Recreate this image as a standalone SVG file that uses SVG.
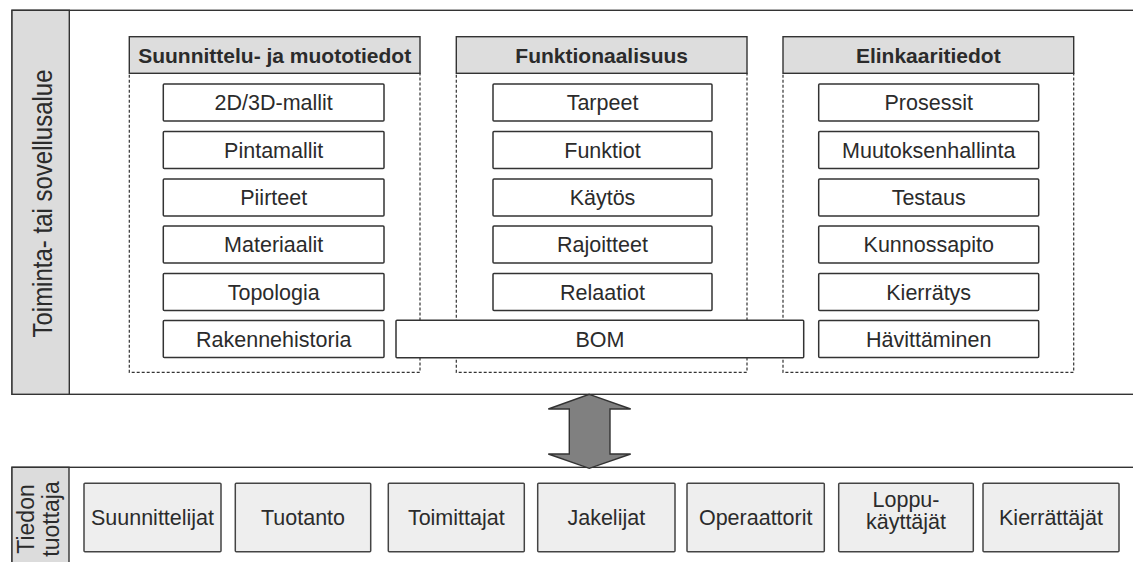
<svg xmlns="http://www.w3.org/2000/svg" width="1133" height="562" viewBox="0 0 1133 562">
<style>
text{font-family:"Liberation Sans",Arial,sans-serif;fill:#2b2b2b}
.panel{fill:#fff;stroke:#333;stroke-width:1.4}
.strip{fill:#dcdcdc;stroke:#333;stroke-width:1.4}
.dash{fill:#fff;stroke:#333;stroke-width:1.2;stroke-dasharray:3 2}
.hdr{fill:#dddddd;stroke:#333;stroke-width:1.4}
.item{fill:#fff;stroke:#333;stroke-width:1.5}
.prod{fill:#eeeeee;stroke:#444;stroke-width:1.5}
.ht{font-size:21px;font-weight:bold;text-anchor:middle}
.it{font-size:21.5px;text-anchor:middle}
.vt{font-size:24px;text-anchor:middle}
</style>
<g id="top-panel">
<rect class="panel" x="12" y="10.3" width="1135" height="384"/>
<rect class="strip" x="12" y="10.3" width="57.3" height="384"/>
<text class="vt" transform="translate(51.7,203.5) scale(1.15,1) rotate(-90)">Toiminta- tai sovellusalue</text>
</g>
<g id="bottom-panel">
<rect class="panel" x="12" y="467.3" width="1135" height="120"/>
<rect class="strip" x="12" y="467.3" width="57" height="120"/>
<text style="font-size:23px;text-anchor:middle" transform="translate(33.5,519) rotate(-90)">Tiedon</text>
<text style="font-size:23px;text-anchor:middle" transform="translate(58.5,519) rotate(-90)">tuottaja</text>
</g>
<g id="col-suunnittelu">
<rect class="dash" x="129.3" y="73.3" width="290.7" height="299"/>
<rect class="hdr" x="129.3" y="36.7" width="290.7" height="36.6"/>
<text class="ht" x="274.7" y="62.5">Suunnittelu- ja muototiedot</text>
</g>
<g id="col-funktionaalisuus">
<rect class="dash" x="456.3" y="73.3" width="290.7" height="299"/>
<rect class="hdr" x="456.3" y="36.7" width="290.7" height="36.6"/>
<text class="ht" x="601.7" y="62.5">Funktionaalisuus</text>
</g>
<g id="col-elinkaari">
<rect class="dash" x="783" y="73.3" width="290.7" height="299"/>
<rect class="hdr" x="783" y="36.7" width="290.7" height="36.6"/>
<text class="ht" x="928.3" y="62.5">Elinkaaritiedot</text>
</g>
<g id="n-2d3d"><rect class="item" x="163.3" y="84" width="220.7" height="37" rx="1"/><text class="it" x="273.7" y="110">2D/3D-mallit</text></g>
<g id="n-pintamallit"><rect class="item" x="163.3" y="131.5" width="220.7" height="37" rx="1"/><text class="it" x="273.7" y="157.5">Pintamallit</text></g>
<g id="n-piirteet"><rect class="item" x="163.3" y="179" width="220.7" height="37" rx="1"/><text class="it" x="273.7" y="205">Piirteet</text></g>
<g id="n-materiaalit"><rect class="item" x="163.3" y="226" width="220.7" height="37" rx="1"/><text class="it" x="273.7" y="252">Materiaalit</text></g>
<g id="n-topologia"><rect class="item" x="163.3" y="273.5" width="220.7" height="37" rx="1"/><text class="it" x="273.7" y="299.5">Topologia</text></g>
<g id="n-rakennehistoria"><rect class="item" x="163.3" y="320.5" width="220.7" height="37" rx="1"/><text class="it" x="273.7" y="346.5">Rakennehistoria</text></g>
<g id="n-tarpeet"><rect class="item" x="493" y="84" width="219" height="37" rx="1"/><text class="it" x="602.5" y="110">Tarpeet</text></g>
<g id="n-funktiot"><rect class="item" x="493" y="131.5" width="219" height="37" rx="1"/><text class="it" x="602.5" y="157.5">Funktiot</text></g>
<g id="n-kaytos"><rect class="item" x="493" y="179" width="219" height="37" rx="1"/><text class="it" x="602.5" y="205">Käytös</text></g>
<g id="n-rajoitteet"><rect class="item" x="493" y="226" width="219" height="37" rx="1"/><text class="it" x="602.5" y="252">Rajoitteet</text></g>
<g id="n-relaatiot"><rect class="item" x="493" y="273.5" width="219" height="37" rx="1"/><text class="it" x="602.5" y="299.5">Relaatiot</text></g>
<g id="n-prosessit"><rect class="item" x="818.7" y="84" width="220" height="37" rx="1"/><text class="it" x="928.7" y="110">Prosessit</text></g>
<g id="n-muutoksenhallinta"><rect class="item" x="818.7" y="131.5" width="220" height="37" rx="1"/><text class="it" x="928.7" y="157.5">Muutoksenhallinta</text></g>
<g id="n-testaus"><rect class="item" x="818.7" y="179" width="220" height="37" rx="1"/><text class="it" x="928.7" y="205">Testaus</text></g>
<g id="n-kunnossapito"><rect class="item" x="818.7" y="226" width="220" height="37" rx="1"/><text class="it" x="928.7" y="252">Kunnossapito</text></g>
<g id="n-kierratys"><rect class="item" x="818.7" y="273.5" width="220" height="37" rx="1"/><text class="it" x="928.7" y="299.5">Kierrätys</text></g>
<g id="n-havittaminen"><rect class="item" x="818.7" y="320.5" width="220" height="37" rx="1"/><text class="it" x="928.7" y="346.5">Hävittäminen</text></g>
<g id="n-bom"><rect class="item" x="396" y="320.3" width="407.7" height="37.5" rx="1"/><text class="it" x="600" y="346.5">BOM</text></g>
<g id="connectors">
<polygon points="589.3,394.3 630.7,409 610,409 610,454 630.7,454 589.3,468.3 548.3,454 569.3,454 569.3,409 548.3,409" fill="#808080" stroke="#333" stroke-width="1.4" stroke-linejoin="miter"/>
</g>
<g id="p-suunnittelijat"><rect class="prod" x="84" y="483.3" width="137" height="68.4" rx="1"/><text class="it" x="152.5" y="525.3">Suunnittelijat</text></g>
<g id="p-tuotanto"><rect class="prod" x="235.3" y="483.3" width="135.4" height="68.4" rx="1"/><text class="it" x="303" y="525.3">Tuotanto</text></g>
<g id="p-toimittajat"><rect class="prod" x="388.3" y="483.3" width="136" height="68.4" rx="1"/><text class="it" x="456.3" y="525.3">Toimittajat</text></g>
<g id="p-jakelijat"><rect class="prod" x="537.7" y="483.3" width="137.3" height="68.4" rx="1"/><text class="it" x="606.3" y="525.3">Jakelijat</text></g>
<g id="p-operaattorit"><rect class="prod" x="687" y="483.3" width="137.3" height="68.4" rx="1"/><text class="it" x="755.7" y="525.3">Operaattorit</text></g>
<g id="p-loppukayttajat"><rect class="prod" x="838.7" y="483.3" width="134.6" height="68.4" rx="1"/><text class="it" x="906" y="506.5">Loppu-</text><text class="it" x="906" y="528.5">käyttäjät</text></g>
<g id="p-kierrattajat"><rect class="prod" x="983" y="483.3" width="136" height="68.4" rx="1"/><text class="it" x="1051" y="525.3">Kierrättäjät</text></g>
</svg>
